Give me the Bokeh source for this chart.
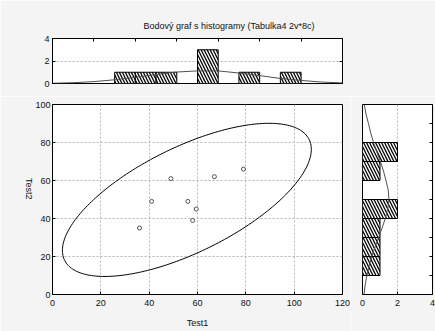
import numpy as np
from bokeh.plotting import figure
from bokeh.layouts import column, row
from bokeh.models import Range1d, LinearAxis, FixedTicker, Title
from bokeh.embed import file_html
from bokeh.resources import INLINE

# ---------------- data ----------------
title_text = "Bodový graf s histogramy (Tabulka4 2v*8c)"
x_label = "Test1"
y_label = "Test2"

test1 = [36, 41, 49, 56, 58, 59.5, 67, 79]
test2 = [35, 49, 61, 49, 39, 45, 62, 66]

# top histogram of Test1 (x in bin units, 1 unit = 60/7 of Test1)
top_left = [3, 4, 5, 7, 9, 11]
top_right = [4, 5, 6, 8, 10, 12]
top_counts = [1, 1, 1, 3, 1, 1]
top_curve_u = [0, 1, 2, 3, 4, 5, 6, 7, 8, 9, 10, 11, 12, 13, 14]
top_curve_n = [0.02, 0.07, 0.17, 0.33, 0.55, 0.8, 1.02, 1.12, 1.12, 0.93, 0.7, 0.45, 0.27, 0.13, 0.05]
top_ticks = [2, 4, 6, 8, 10, 12]

# right histogram of Test2
right_bottom = [10, 20, 30, 40, 60, 70]
right_top = [20, 30, 40, 50, 70, 80]
right_counts = [1, 1, 1, 2, 1, 2]
right_curve_y = [0, 5, 10, 15, 20, 25, 30, 35, 40, 45, 50, 55, 60, 65, 70, 75, 80, 85, 90, 95, 100]
right_curve_n = [0.09, 0.15, 0.25, 0.38, 0.52, 0.72, 0.92, 1.12, 1.3, 1.44, 1.51, 1.47, 1.34, 1.2, 1.02, 0.82, 0.63, 0.47, 0.34, 0.2, 0.1]
right_ticks = [10, 20, 30, 40, 50, 60, 70, 80, 90]

# prediction ellipse
ellipse_center = (55.6, 49.8)
ellipse_half = (51.5, 40.3)
ellipse_r = 0.66

x_ticks = [0, 20, 40, 60, 80, 100, 120]
y_ticks = [0, 20, 40, 60, 80, 100]
hist_ticks = [0, 2, 4]

# ---------------- style ----------------
FONT = "Liberation Sans"
BG = "#f4f4f4"
FS = "9px"
GRID = "#b4b4b4"
CURVE = "#505050"
TXT = "#111111"


def base_style(p):
    p.background_fill_color = "white"
    p.border_fill_color = BG
    p.outline_line_color = "black"
    p.outline_line_width = 1


def style_axis(ax, standoff=3, hide_labels=False):
    ax.major_tick_in = 3
    ax.major_tick_out = 0
    ax.minor_tick_line_color = None
    ax.axis_line_color = "black"
    ax.major_tick_line_color = "black"
    ax.major_label_text_font = FONT
    ax.major_label_text_font_size = FS
    ax.major_label_text_color = None if hide_labels else TXT
    ax.major_label_standoff = standoff


def grid_style(g):
    g.grid_line_color = GRID
    g.grid_line_dash = "2 2"
    g.grid_line_width = 1


hatch = dict(fill_color="white", line_color="black", line_width=1,
             hatch_pattern="\\", hatch_color="black", hatch_scale=6, hatch_weight=1.3)

# ---------------- top histogram ----------------
pt = figure(width=435, height=96, frame_width=290, frame_height=45,
            x_range=Range1d(0, 14), y_range=Range1d(0, 4),
            output_backend="svg", toolbar_location=None,
            min_border_left=52, min_border_right=93, min_border_top=38, min_border_bottom=13)
base_style(pt)
pt.xaxis.visible = False
pt.yaxis.ticker = FixedTicker(ticks=hist_ticks)
style_axis(pt.yaxis[0], standoff=3)
pt.xgrid.visible = False
pt.ygrid.ticker = FixedTicker(ticks=[2])
grid_style(pt.ygrid[0])
ax_top = LinearAxis(ticker=FixedTicker(ticks=top_ticks))
style_axis(ax_top, hide_labels=True)
pt.add_layout(ax_top, "above")
ax_tr = LinearAxis(ticker=FixedTicker(ticks=[2]))
style_axis(ax_tr, hide_labels=True)
pt.add_layout(ax_tr, "right")
pt.add_layout(Title(text=title_text, align="left", offset=91, text_font=FONT,
                    text_font_size=FS, text_font_style="normal", text_color=TXT,
                    standoff=15), "above")

pt.quad(left=top_left, right=top_right, bottom=0, top=top_counts, **hatch)
pt.line(top_curve_u, top_curve_n, line_color=CURVE, line_width=1)

# ---------------- main scatter ----------------
pm = figure(width=350, height=235, frame_width=290, frame_height=190,
            x_range=Range1d(0, 120), y_range=Range1d(0, 100),
            output_backend="svg", toolbar_location=None,
            min_border_left=52, min_border_right=8, min_border_top=8, min_border_bottom=37)
base_style(pm)
pm.xaxis.ticker = FixedTicker(ticks=x_ticks)
pm.yaxis.ticker = FixedTicker(ticks=y_ticks)
style_axis(pm.xaxis[0], standoff=5)
style_axis(pm.yaxis[0], standoff=2)
for ax, lab, so in ((pm.xaxis[0], x_label, 9), (pm.yaxis[0], y_label, 3)):
    ax.axis_label = lab
    ax.axis_label_text_font = FONT
    ax.axis_label_text_font_size = FS
    ax.axis_label_text_font_style = "normal"
    ax.axis_label_text_color = TXT
    ax.axis_label_standoff = so
if "axis_label_orientation" in LinearAxis.properties():
    pm.yaxis[0].axis_label_orientation = -np.pi / 2
pm.xgrid.ticker = FixedTicker(ticks=x_ticks[1:-1])
pm.ygrid.ticker = FixedTicker(ticks=y_ticks[1:-1])
grid_style(pm.xgrid[0])
grid_style(pm.ygrid[0])

t = np.linspace(0, 2 * np.pi, 240)
cx, cy = ellipse_center
hx, hy = ellipse_half
ex = cx + hx * np.cos(t)
ey = cy + hy * (ellipse_r * np.cos(t) + np.sqrt(1 - ellipse_r ** 2) * np.sin(t))
pm.line(ex, ey, line_color="black", line_width=1)
pm.scatter(test1, test2, marker="circle", size=4, fill_color="white",
           line_color="#505050", line_width=1)

# ---------------- right histogram ----------------
pr = figure(width=85, height=235, frame_width=70, frame_height=190,
            x_range=Range1d(0, 4), y_range=pm.y_range,
            output_backend="svg", toolbar_location=None,
            min_border_left=12, min_border_right=3, min_border_top=8, min_border_bottom=37)
base_style(pr)
pr.yaxis.visible = False
pr.xaxis.ticker = FixedTicker(ticks=hist_ticks)
style_axis(pr.xaxis[0], standoff=5)
pr.ygrid.visible = False
pr.xgrid.ticker = FixedTicker(ticks=[2])
grid_style(pr.xgrid[0])
ax_rr = LinearAxis(ticker=FixedTicker(ticks=right_ticks))
style_axis(ax_rr, hide_labels=True)
pr.add_layout(ax_rr, "right")

pr.quad(left=0, right=right_counts, bottom=right_bottom, top=right_top, **hatch)
pr.line(right_curve_n, right_curve_y, line_color=CURVE, line_width=1)

layout = column(pt, row(pm, pr, spacing=0), spacing=0)
open("out.html", "w").write(file_html(layout, INLINE))
